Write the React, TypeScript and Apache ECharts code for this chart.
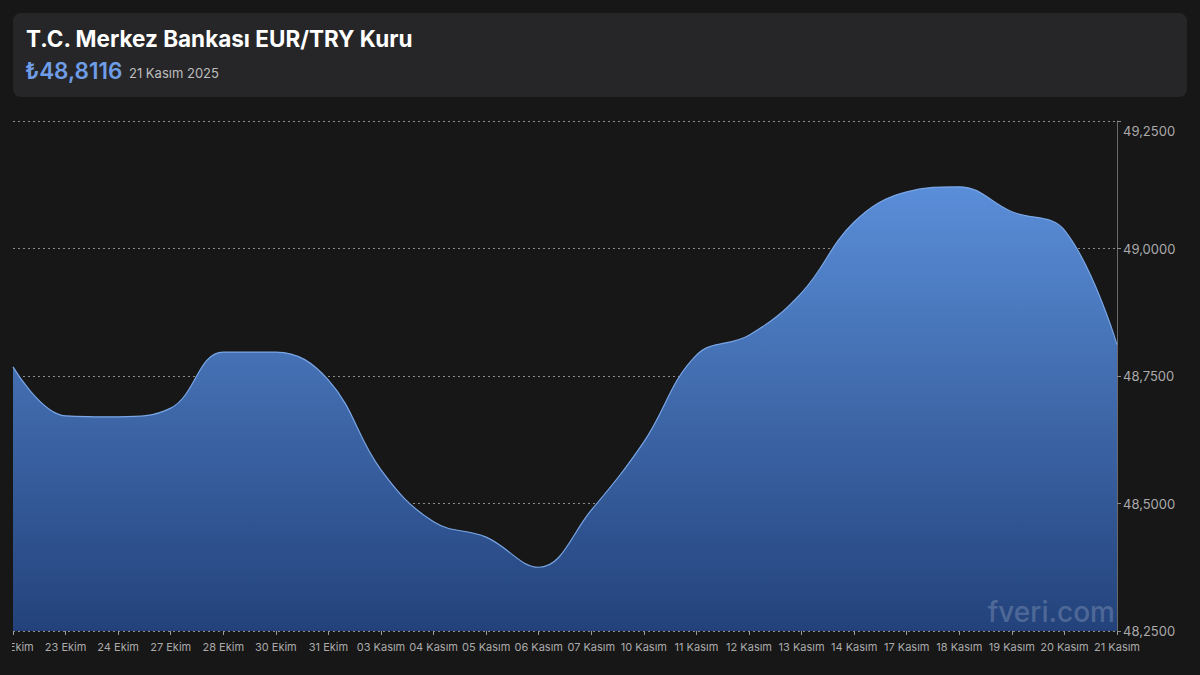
import React, { useEffect, useRef } from "react";
import * as echarts from "echarts";

const dates = [
  "22 Ekim", "23 Ekim", "24 Ekim", "27 Ekim", "28 Ekim", "30 Ekim", "31 Ekim",
  "03 Kasım", "04 Kasım", "05 Kasım", "06 Kasım", "07 Kasım", "10 Kasım", "11 Kasım",
  "12 Kasım", "13 Kasım", "14 Kasım", "17 Kasım", "18 Kasım", "19 Kasım", "20 Kasım", "21 Kasım",
];
const rates = [
  48.768, 48.672, 48.670, 48.687, 48.797, 48.797, 48.742,
  48.566, 48.464, 48.434, 48.375, 48.487, 48.621, 48.791,
  48.830, 48.913, 49.052, 49.111, 49.121, 49.072, 49.036, 48.8116,
];
const yTicks = { min: 48.25, max: 49.25, step: 0.25 };
const titleText = "T.C. Merkez Bankası EUR/TRY Kuru";
const priceText = "₺48,8116";
const dateText = "21 Kasım 2025";
const watermark = "fveri.com";

const FONT = "Inter, 'Noto Sans', sans-serif";
const BG = "#171717";

export default function App() {
  const ref = useRef<HTMLDivElement>(null);
  useEffect(() => {
    if (!ref.current) return;
    const chart = echarts.init(ref.current, null, { renderer: "svg" });
    chart.setOption({
      animation: false,
      backgroundColor: BG,
      textStyle: { fontFamily: FONT },
      grid: {
        left: 13, right: 83, top: 121, bottom: 44,
        containLabel: false, outerBoundsMode: "none",
      },
      xAxis: {
        type: "category",
        data: dates,
        boundaryGap: false,
        axisLine: { show: false },
        axisTick: { show: true, alignWithLabel: true, length: 4, lineStyle: { color: "#9a9a9a" } },
        axisLabel: {
          color: "#aaaaaa", fontSize: 11, margin: 10, interval: 0, fontFamily: FONT,
          hideOverlap: false,
        },
        splitLine: { show: false },
      },
      yAxis: {
        type: "value",
        position: "right",
        min: yTicks.min,
        max: yTicks.max,
        interval: yTicks.step,
        axisLine: { show: true, lineStyle: { color: "#6a6a6a", width: 1 } },
        axisTick: { show: true, length: 4, lineStyle: { color: "#8a8a8a" } },
        axisLabel: {
          color: "#aaaaaa",
          fontSize: 13,
          margin: 6,
          fontFamily: FONT,
          formatter: (v: number) =>
            v >= yTicks.max - 1e-9
              ? "{top|" + v.toFixed(4).replace(".", ",") + "}"
              : v.toFixed(4).replace(".", ","),
          rich: { top: { fontSize: 13, color: "#aaaaaa", fontFamily: FONT, padding: [20, 0, 0, 0] } },
        },
        splitLine: { show: true, lineStyle: { color: "#8c8c8c", type: [2, 3], width: 1 } },
      },
      series: [
        {
          type: "line",
          data: rates,
          smooth: 0.4,
          symbol: "none",
          lineStyle: { color: "#79a6e6", width: 1.2 },
          areaStyle: {
            color: new echarts.graphic.LinearGradient(0, 0, 0, 1, [
              { offset: 0, color: "#5a8ed8" },
              { offset: 1, color: "#23427b" },
            ]),
            opacity: 1,
          },
          z: 2,
        },
      ],
      graphic: [
        {
          type: "rect",
          shape: { x: 0, y: 636, width: 12, height: 39 },
          style: { fill: BG },
          z: 100,
        },
        {
          type: "rect",
          shape: { x: 13, y: 13, width: 1174, height: 84, r: 8 },
          style: { fill: "#262628" },
          z: 10,
        },
        {
          type: "text",
          x: 26,
          y: 27,
          style: { text: titleText, fill: "#ffffff", font: `bold 22.5px ${FONT}` },
          z: 11,
        },
        {
          type: "text",
          x: 25,
          y: 59,
          style: { text: priceText, fill: "#6f9ce6", font: `600 22.5px ${FONT}` },
          z: 11,
        },
        {
          type: "text",
          x: 129,
          y: 66,
          style: { text: dateText, fill: "#bdbdbd", font: `13px ${FONT}` },
          z: 11,
        },
        {
          type: "text",
          x: 1115,
          y: 612,
          style: {
            text: watermark,
            fill: "rgba(255,255,255,0.2)",
            font: `500 28px ${FONT}`,
            align: "right",
            verticalAlign: "middle",
          },
          z: 11,
        },
      ],
    });
    return () => chart.dispose();
  }, []);
  return (
    <div
      ref={ref}
      style={{ position: "fixed", left: 0, top: 0, width: 1200, height: 675 }}
    />
  );
}
